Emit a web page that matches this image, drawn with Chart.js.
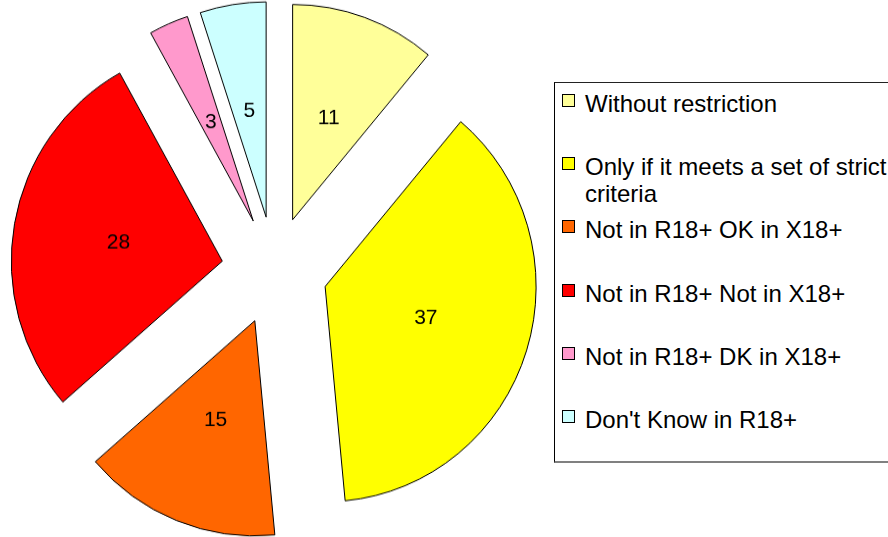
<!DOCTYPE html>
<html>
<head>
<meta charset="utf-8">
<script src="https://cdn.jsdelivr.net/npm/chart.js@4/dist/chart.umd.min.js"></script>
<style>
  html, body { margin: 0; padding: 0; background: #fff; }
  body { width: 888px; height: 537px; position: relative; overflow: hidden;
         font-family: "Liberation Sans", Arial, sans-serif; }
  #wrap { position: absolute; left: 0; top: 0; width: 549px; height: 537px;
          transform: scaleY(1.02); transform-origin: 0 271px; }
  #legend { position: absolute; left: 554px; top: 82px; width: 360px; height: 381px;
            box-sizing: border-box; border-left: 1px solid #000; border-top: 1px solid #222;
            border-bottom: 2px solid #808080; }
  .item { position: absolute; left: 0; width: 340px; }
  .mk { position: absolute; left: 7px; top: 4px; width: 11px; height: 11px; border: 1px solid #000; }
  .tx { position: absolute; left: 30px; width: 305px; font-size: 24px; line-height: 27px; color: #000; }
</style>
</head>
<body>
<div id="wrap"><canvas id="c"></canvas></div>
<div id="legend"></div>
<script>
const categories = [
  "Without restriction",
  "Only if it meets a set of strict criteria",
  "Not in R18+ OK in X18+",
  "Not in R18+ Not in X18+",
  "Not in R18+ DK in X18+",
  "Don't Know in R18+"
];
const values = [11, 37, 15, 28, 3, 5];
const colors = ["#FFFF99", "#FFFF00", "#FF6600", "#FF0000", "#FF99CC", "#CCFFFF"];

const EXPLODE = 53;

// HTML legend built from the arrays
const legend = document.getElementById('legend');
categories.forEach((name, i) => {
  const it = document.createElement('div');
  it.className = 'item';
  it.style.top = (7 + 63.2 * i) + 'px';
  const mk = document.createElement('div');
  mk.className = 'mk';
  mk.style.background = colors[i];
  const tx = document.createElement('div');
  tx.className = 'tx';
  tx.textContent = name;
  it.appendChild(mk);
  it.appendChild(tx);
  legend.appendChild(it);
});

const explodePlugin = {
  id: 'explode',
  afterDatasetsUpdate(chart) {
    const a = chart.chartArea;
    const cx = (a.left + a.right) / 2, cy = (a.top + a.bottom) / 2;
    chart.getDatasetMeta(0).data.forEach(arc => {
      const mid = (arc.startAngle + arc.endAngle) / 2;
      arc.x = cx + EXPLODE * Math.cos(mid);
      arc.y = cy + EXPLODE * Math.sin(mid);
    });
  }
};

const labelPlugin = {
  id: 'sliceLabels',
  afterDatasetsDraw(chart) {
    const ctx = chart.ctx;
    const ds = chart.data.datasets[0];
    ctx.save();
    ctx.font = '21px "Liberation Sans", Arial, sans-serif';
    ctx.fillStyle = '#000';
    ctx.textAlign = 'center';
    ctx.textBaseline = 'middle';
    chart.getDatasetMeta(0).data.forEach((arc, i) => {
      const mid = (arc.startAngle + arc.endAngle) / 2;
      const rr = arc.outerRadius / 2;
      ctx.fillText(String(ds.data[i]), arc.x + rr * Math.cos(mid), arc.y + rr * Math.sin(mid));
    });
    ctx.restore();
  }
};

new Chart(document.getElementById('c'), {
  type: 'pie',
  data: {
    labels: categories,
    datasets: [{
      data: values,
      backgroundColor: colors,
      borderColor: '#000',
      borderWidth: 1
    }]
  },
  options: {
    responsive: true,
    maintainAspectRatio: false,
    animation: false,
    events: [],
    radius: 211,
    layout: { padding: { top: 4, left: 0, right: 0, bottom: 0 } },
    plugins: {
      legend: { display: false },
      tooltip: { enabled: false }
    }
  },
  plugins: [explodePlugin, labelPlugin]
});
</script>
</body>
</html>
